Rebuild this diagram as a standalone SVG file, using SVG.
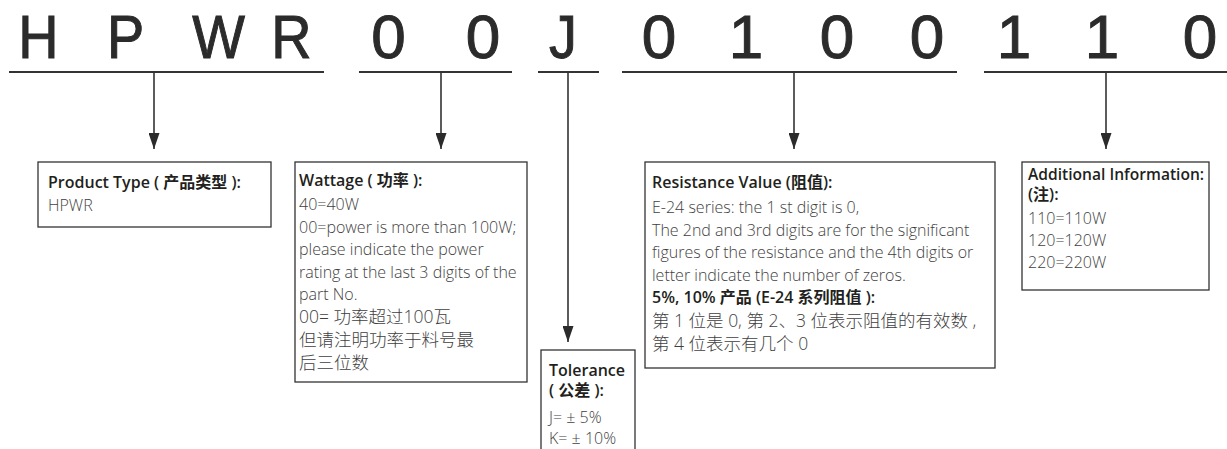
<svg xmlns="http://www.w3.org/2000/svg" width="1227" height="449" viewBox="0 0 1227 449">
<style>
.big{font-family:"Liberation Sans",Arial,sans-serif;font-size:62px;fill:#2b2b2b;stroke:#2b2b2b;stroke-width:1;text-anchor:middle}
.ul{stroke:#333;stroke-width:2}
.box{fill:#fff;stroke:#333;stroke-width:1.3}
.t{font-family:"Open Sans","Noto Sans CJK SC",sans-serif;font-size:16px;font-weight:600;fill:#231f20}
.b{font-family:"Open Sans","Noto Sans CJK SC",sans-serif;font-size:16px;font-weight:300;fill:#3f3f3f}
.c{font-size:17.5px}
.con{stroke:#333;stroke-width:1.6;fill:none}
</style>
<defs>
<marker id="ah" viewBox="0 0 16 11" refX="16" refY="5.5" markerWidth="16" markerHeight="11" markerUnits="userSpaceOnUse" orient="auto">
<path d="M0,0 L16,5.5 L0,11 z" fill="#2b2b2b"/>
</marker>
</defs>
<rect width="1227" height="449" fill="#fff"/>
<g id="code">
<text class="big" transform="translate(38.5,58) scale(0.9,1)">H</text>
<text class="big" transform="translate(125.5,58) scale(0.9,1)">P</text>
<text class="big" transform="translate(218.5,58) scale(0.9,1)">W</text>
<text class="big" transform="translate(291.5,58) scale(0.9,1)">R</text>
<text class="big" transform="translate(388.5,58)">0</text>
<text class="big" transform="translate(483,58)">0</text>
<text class="big" transform="translate(563,58) scale(0.9,1)">J</text>
<text class="big" transform="translate(659,58)">0</text>
<text class="big" x="746" y="58">1</text>
<text class="big" transform="translate(837,58)">0</text>
<text class="big" transform="translate(927,58)">0</text>
<text class="big" x="1014" y="58">1</text>
<text class="big" x="1102" y="58">1</text>
<text class="big" transform="translate(1200,58)">0</text>
<line class="ul" x1="9" y1="72" x2="324" y2="72"/>
<line class="ul" x1="359" y1="72" x2="512" y2="72"/>
<line class="ul" x1="538" y1="72" x2="599" y2="72"/>
<line class="ul" x1="622" y1="72" x2="957" y2="72"/>
<line class="ul" x1="984" y1="72" x2="1227" y2="72"/>
</g>
<g id="connectors">
<line class="con" x1="154" y1="72" x2="154" y2="149" marker-end="url(#ah)"/>
<line class="con" x1="441" y1="72" x2="441" y2="149" marker-end="url(#ah)"/>
<line class="con" x1="568" y1="72" x2="568" y2="342" marker-end="url(#ah)"/>
<line class="con" x1="794" y1="72" x2="794" y2="149" marker-end="url(#ah)"/>
<line class="con" x1="1106" y1="72" x2="1106" y2="149" marker-end="url(#ah)"/>
</g>
<g id="product-type">
<rect class="box" x="38" y="162" width="233" height="65"/>
<text class="t" x="48" y="188">Product Type ( 产品类型 ):</text>
<text class="b" x="48" y="211">HPWR</text>
</g>
<g id="wattage">
<rect class="box" x="295" y="162" width="232" height="220"/>
<text class="t" x="299" y="186">Wattage ( 功率 ):</text>
<text class="b" x="299" y="210">40=40W</text>
<text class="b" x="299" y="232.5">00=power is more than 100W;</text>
<text class="b" x="299" y="255">please indicate the power</text>
<text class="b" x="299" y="277.5">rating at the last 3 digits of the</text>
<text class="b" x="299" y="300">part No.</text>
<text class="b c" x="299" y="323">00= 功率超过100瓦</text>
<text class="b c" x="299" y="346">但请注明功率于料号最</text>
<text class="b c" x="299" y="369">后三位数</text>
</g>
<g id="tolerance">
<rect class="box" x="541" y="350" width="94" height="110"/>
<text class="t" x="549" y="376">Tolerance</text>
<text class="t" x="549" y="396">( 公差 ):</text>
<text class="b" x="549" y="423">J= ± 5%</text>
<text class="b" x="549" y="444">K= ± 10%</text>
</g>
<g id="resistance">
<rect class="box" x="645" y="162" width="350" height="206"/>
<text class="t" x="652" y="188">Resistance Value (阻值):</text>
<text class="b" x="652" y="213">E-24 series: the 1 st digit is 0,</text>
<text class="b" x="652" y="235.5">The 2nd and 3rd digits are for the significant</text>
<text class="b" x="652" y="258">figures of the resistance and the 4th digits or</text>
<text class="b" x="652" y="280.5">letter indicate the number of zeros.</text>
<text class="t" x="652" y="303">5%, 10% 产品 (E-24 系列阻值 ):</text>
<text class="b c" x="652" y="327">第 1 位是 0, 第 2、3 位表示阻值的有效数 ,</text>
<text class="b c" x="652" y="350">第 4 位表示有几个 0</text>
</g>
<g id="additional">
<rect class="box" x="1022" y="162" width="187" height="128"/>
<text class="t" x="1028" y="180" style="font-size:15.6px">Additional Information:</text>
<text class="t" x="1028" y="200">(注):</text>
<text class="b" x="1028" y="224">110=110W</text>
<text class="b" x="1028" y="246">120=120W</text>
<text class="b" x="1028" y="268">220=220W</text>
</g>
</svg>
